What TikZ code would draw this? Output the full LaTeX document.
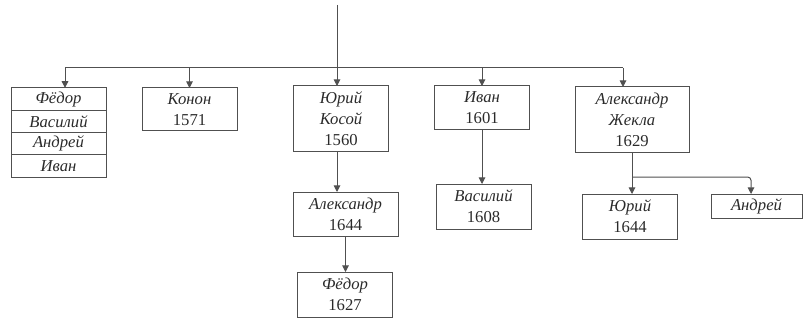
\documentclass[tikz,border=0pt]{standalone}
\usepackage{fontspec}
\setmainfont{Liberation Serif}
\usepackage{tikz}
\usetikzlibrary{
  arrows.meta,
  positioning,
  calc
}
\definecolor{trLine}{HTML}{505050}
\definecolor{trText}{HTML}{2A2A2A}
\tikzset{
  trnode/.style={
    draw=trLine, line width=0.6pt, outer sep=0pt, inner sep=1pt,
    font=\fontsize{10}{12.6}\selectfont, text=trText, align=center
  },
  trbox/.style={trnode, minimum width=57pt, minimum height=27pt},
  trrow/.style={trnode, minimum width=57pt, minimum height=13.4pt},
  trlink/.style={-{Triangle[length=4pt, width=4pt]}, line width=0.6pt, trLine},
  trbus/.style={line width=0.6pt, trLine, rounded corners=2pt}
}

\begin{document}
\begin{tikzpicture}[x=0.6pt, y=-0.6pt]
  \useasboundingbox (0,0) rectangle (803,321);
  \coordinate (top) at (337,5);
  \coordinate (busL) at (65,68);
  \coordinate (busR) at (623,68);
  \coordinate (fork) at (632,177);
  \coordinate (forkR) at (751,177);

  \node[trrow] (f1) at (58.5,99) {\textit{Фёдор}};
  \node[trrow, below=0pt of f1] (f2) {\textit{Василий}};
  \node[trrow, below=0pt of f2] (f3) {\textit{Андрей}};
  \node[trrow, below=0pt of f3] (f4) {\textit{Иван}};

  \node[trbox, minimum height=25.8pt] (kon) at (189.5,109.5) {\textit{Конон}\\1571};
  \node[trbox, minimum height=39.6pt] (yk) at (341,119) {\textit{Юрий}\\\textit{Косой}\\1560};
  \node[trbox, minimum width=63pt, minimum height=26.4pt] (al) at (345.5,214) {\textit{Александр}\\1644};
  \node[trbox] (fd) at (345,294.5) {\textit{Фёдор}\\1627};
  \node[trbox, minimum height=26.4pt] (iv) at (482,108) {\textit{Иван}\\1601};
  \node[trbox] (vs) at (483.5,206.5) {\textit{Василий}\\1608};
  \node[trbox, minimum width=68.4pt, minimum height=39.6pt] (zh) at (632,120) {\textit{Александр}\\\textit{Жекла}\\1629};
  \node[trbox] (yu) at (630,216.5) {\textit{Юрий}\\1644};
  \node[trbox, minimum width=54.6pt, minimum height=14.4pt] (an) at (756.5,206) {\textit{Андрей}};

  \draw[trlink] (top) -- (top |- yk.north);
  \draw[trbus] (busL) -- (busR);
  \draw[trlink] (busL) -- (busL |- f1.north);
  \draw[trlink] (busL -| kon) -- (kon.north);
  \draw[trlink] (busL -| iv) -- (iv.north);
  \draw[trlink] (busR) -- (busR |- zh.north);
  \draw[trlink] (yk.south -| top) -- (top |- al.north);
  \draw[trlink] (al.south) -- (al.south |- fd.north);
  \draw[trlink] (iv.south) -- (iv.south |- vs.north);
  \draw[trlink] (zh.south) -- (zh.south |- yu.north);
  \draw[trlink, rounded corners=2pt] (fork) -- (forkR) -- (forkR |- an.north);
\end{tikzpicture}
\end{document}
